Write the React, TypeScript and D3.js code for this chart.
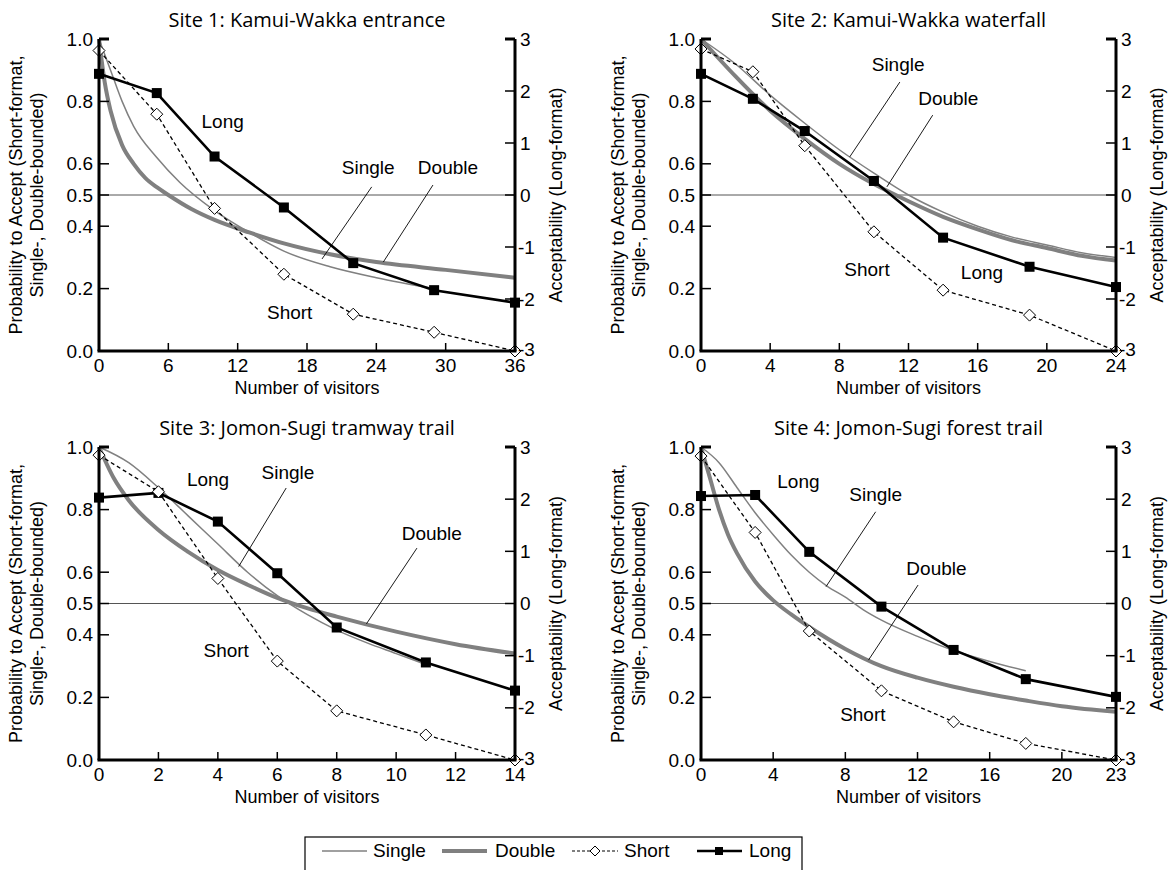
import * as d3 from 'd3';

// ---- data ----
const site1Visitors = [0, 5, 10, 16, 22, 29, 36];
const site1Short = [0.963, 0.759, 0.457, 0.246, 0.118, 0.06, 0.0];
const site1Long = [2.33, 1.96, 0.74, -0.24, -1.31, -1.83, -2.07];
const site1Single = [[0, 1.0], [1, 0.9], [2, 0.8], [3, 0.72], [5, 0.62], [7, 0.54], [10, 0.45], [13, 0.38], [16, 0.32], [20, 0.27], [24, 0.235], [29, 0.2]];
const site1Double = [[0, 1.0], [0.5, 0.86], [1, 0.77], [2, 0.66], [3, 0.6], [4, 0.555], [5, 0.525], [6, 0.5], [8, 0.455], [10, 0.42], [13, 0.38], [16, 0.345], [20, 0.31], [24, 0.285], [30, 0.26], [36, 0.235]];

const site2Visitors = [0, 3, 6, 10, 14, 19, 24];
const site2Short = [0.968, 0.895, 0.658, 0.382, 0.195, 0.115, 0.0];
const site2Long = [2.33, 1.85, 1.23, 0.27, -0.82, -1.38, -1.77];
const site2Single = [[0, 1.0], [2, 0.92], [4, 0.82], [6, 0.73], [8, 0.645], [10, 0.57], [12, 0.5], [14, 0.445], [16, 0.4], [18, 0.365], [20, 0.34], [22, 0.315], [24, 0.3]];
const site2Double = [[0, 1.0], [2, 0.88], [4, 0.77], [6, 0.68], [8, 0.6], [10, 0.535], [12, 0.48], [14, 0.43], [16, 0.39], [18, 0.355], [20, 0.33], [22, 0.305], [24, 0.29]];

const site3Visitors = [0, 2, 4, 6, 8, 11, 14];
const site3Short = [0.974, 0.857, 0.58, 0.316, 0.157, 0.08, 0.0];
const site3Long = [2.03, 2.12, 1.57, 0.58, -0.46, -1.13, -1.67];
const site3Single = [[0, 1.0], [1, 0.95], [2, 0.87], [3, 0.78], [4, 0.69], [5, 0.6], [6, 0.525], [7, 0.465], [8, 0.415], [9, 0.375], [10, 0.34], [11, 0.305]];
const site3Double = [[0, 1.0], [0.5, 0.9], [1, 0.83], [2, 0.735], [3, 0.665], [4, 0.607], [5, 0.56], [6, 0.518], [7, 0.485], [8, 0.458], [10, 0.41], [12, 0.37], [14, 0.34]];

const site4Visitors = [0, 3, 6, 10, 14, 18, 23];
const site4Short = [0.971, 0.727, 0.412, 0.221, 0.122, 0.053, 0.0];
const site4Long = [2.06, 2.08, 0.99, -0.06, -0.89, -1.45, -1.79];
const site4Single = [[0, 1.0], [1, 0.95], [2, 0.87], [3, 0.79], [4, 0.72], [5, 0.655], [6, 0.6], [7, 0.555], [8, 0.52], [9, 0.48], [10, 0.447], [12, 0.395], [14, 0.35], [16, 0.315], [18, 0.285]];
const site4Double = [[0, 1.0], [0.5, 0.9], [1, 0.8], [1.5, 0.72], [2, 0.66], [3, 0.57], [4, 0.51], [5, 0.465], [6, 0.425], [8, 0.355], [10, 0.3], [12, 0.263], [14, 0.234], [16, 0.21], [18, 0.19], [20, 0.172], [23, 0.154]];

const probTicks = [0, 0.2, 0.4, 0.5, 0.6, 0.8, 1.0];
const longTicks = [-3, -2, -1, 0, 1, 2, 3];

const titles = [
  'Site 1: Kamui-Wakka entrance',
  'Site 2: Kamui-Wakka waterfall',
  'Site 3: Jomon-Sugi tramway trail',
  'Site 4: Jomon-Sugi forest trail',
];
const xTickSets = [
  [0, 6, 12, 18, 24, 30, 36],
  [0, 4, 8, 12, 16, 20, 24],
  [0, 2, 4, 6, 8, 10, 12, 14],
  [0, 4, 8, 12, 16, 20, 23],
];

// annotation positions in data units: [x, prob]
const labelSets = [
  { long: [10.7, 0.734], single: [23.3, 0.587], double: [30.2, 0.587], short: [16.5, 0.125],
    singleLead: [[23.6, 0.526], [19.3, 0.295]], doubleLead: [[28.9, 0.532], [24.6, 0.285]] },
  { long: [16.25, 0.253], single: [11.4, 0.917], double: [14.3, 0.808], short: [9.6, 0.26],
    singleLead: [[11.5, 0.862], [8.6, 0.622]], doubleLead: [[13.4, 0.756], [10.75, 0.526]] },
  { long: [3.67, 0.895], single: [6.36, 0.917], double: [11.2, 0.725], short: [4.28, 0.351],
    singleLead: [[6.3, 0.869], [4.7, 0.618]], doubleLead: [[10.7, 0.677], [9.0, 0.435]] },
  { long: [5.4, 0.889], single: [9.68, 0.847], double: [13.05, 0.613], short: [8.97, 0.144],
    singleLead: [[9.68, 0.793], [6.93, 0.554]], doubleLead: [[12.03, 0.559], [9.28, 0.319]] },
];

const FONT = '"Liberation Sans", Arial, sans-serif';
const TITLE_FONT = '"Open Sans", "Noto Sans", sans-serif';
const GRAY = '#808080';

const PANELS = [
  { left: 99, right: 515, top: 39, bottom: 351, visitors: site1Visitors, short: site1Short, long: site1Long, single: site1Single, double: site1Double },
  { left: 701, right: 1116, top: 39, bottom: 351, visitors: site2Visitors, short: site2Short, long: site2Long, single: site2Single, double: site2Double },
  { left: 99, right: 515, top: 447, bottom: 760, visitors: site3Visitors, short: site3Short, long: site3Long, single: site3Single, double: site3Double },
  { left: 701, right: 1116, top: 447, bottom: 760, visitors: site4Visitors, short: site4Short, long: site4Long, single: site4Single, double: site4Double },
];

function Diamond({ x, y, r = 6 }) {
  return <path d={`M${x},${y - r}L${x + r},${y}L${x},${y + r}L${x - r},${y}Z`} fill="#fff" stroke="#000" strokeWidth={1} />;
}

function Panel({ p, i }) {
  const xTicks = xTickSets[i];
  const xMax = xTicks[xTicks.length - 1];
  const x = d3.scaleLinear().domain([0, xMax]).range([p.left, p.right]);
  const y = d3.scaleLinear().domain([0, 1]).range([p.bottom, p.top]);
  const yR = d3.scaleLinear().domain([-3, 3]).range([p.bottom, p.top]);
  const lab = labelSets[i];

  const curve = d3.line().x((d) => x(d[0])).y((d) => y(d[1])).curve(d3.curveMonotoneX);
  const shortLine = d3.line().x((d) => x(d[0])).y((d) => y(d[1]));
  const longLine = d3.line().x((d) => x(d[0])).y((d) => yR(d[1]));
  const shortPts = p.visitors.map((v, k) => [v, p.short[k]]);
  const longPts = p.visitors.map((v, k) => [v, p.long[k]]);
  const midX = (p.left + p.right) / 2;
  const midY = y(0.5);

  return (
    <g>
      <text x={midX} y={p.top - 12} textAnchor="middle" fontFamily={TITLE_FONT} fontSize={20}>{titles[i]}</text>

      {/* 0.5 reference line */}
      <line x1={p.left} x2={p.right} y1={y(0.5)} y2={y(0.5)} stroke="#555" strokeWidth={1} />

      {/* fitted curves */}
      <path d={curve(p.double)} fill="none" stroke={GRAY} strokeWidth={4} />
      <path d={curve(p.single)} fill="none" stroke={GRAY} strokeWidth={1.5} />

      {/* short-format */}
      <path d={shortLine(shortPts)} fill="none" stroke="#000" strokeWidth={1.3} strokeDasharray="4,3" />

      {/* long-format */}
      <path d={longLine(longPts)} fill="none" stroke="#000" strokeWidth={2.6} />
      {longPts.map((d, k) => (
        <rect key={'l' + k} x={x(d[0]) - 5} y={yR(d[1]) - 5} width={10} height={10} fill="#000" />
      ))}
      {shortPts.map((d, k) => (
        <Diamond key={'s' + k} x={x(d[0])} y={y(d[1])} />
      ))}

      {/* annotations */}
      <g fontFamily={FONT} fontSize={19} textAnchor="middle" dominantBaseline="central">
        <text x={x(lab.long[0])} y={y(lab.long[1])}>Long</text>
        <text x={x(lab.single[0])} y={y(lab.single[1])}>Single</text>
        <text x={x(lab.double[0])} y={y(lab.double[1])}>Double</text>
        <text x={x(lab.short[0])} y={y(lab.short[1])}>Short</text>
      </g>
      <line x1={x(lab.singleLead[0][0])} y1={y(lab.singleLead[0][1])} x2={x(lab.singleLead[1][0])} y2={y(lab.singleLead[1][1])} stroke="#000" strokeWidth={0.9} />
      <line x1={x(lab.doubleLead[0][0])} y1={y(lab.doubleLead[0][1])} x2={x(lab.doubleLead[1][0])} y2={y(lab.doubleLead[1][1])} stroke="#000" strokeWidth={0.9} />

      {/* axes */}
      <line x1={p.left} x2={p.left} y1={p.top} y2={p.bottom} stroke="#000" strokeWidth={3} />
      <line x1={p.right} x2={p.right} y1={p.top} y2={p.bottom} stroke="#000" strokeWidth={3} />
      <line x1={p.left - 1.5} x2={p.right + 1.5} y1={p.bottom} y2={p.bottom} stroke="#000" strokeWidth={3} />

      {probTicks.map((t) => (
        <g key={'py' + t}>
          <line x1={p.left} x2={p.left + 10} y1={y(t)} y2={y(t)} stroke="#000" strokeWidth={t === 1 ? 3 : 1.5} />
          <text x={p.left - 6} y={y(t)} textAnchor="end" dominantBaseline="central" fontFamily={FONT} fontSize={19}>{t.toFixed(1)}</text>
        </g>
      ))}
      {longTicks.map((t) => (
        <g key={'ry' + t}>
          <line x1={p.right - 10} x2={p.right} y1={yR(t)} y2={yR(t)} stroke="#000" strokeWidth={t === 3 ? 3 : 1.5} />
          <text x={p.right + (t < 0 ? 3 : 5)} y={yR(t) - (t === -3 ? 2 : 0)} dominantBaseline="central" fontFamily={FONT} fontSize={19}>{t}</text>
        </g>
      ))}
      {xTicks.map((t) => (
        <g key={'x' + t}>
          <line x1={x(t)} x2={x(t)} y1={p.bottom} y2={p.bottom - 8} stroke="#000" strokeWidth={1.5} />
          <text x={x(t)} y={p.bottom + 21} textAnchor="middle" fontFamily={FONT} fontSize={19}>{t}</text>
        </g>
      ))}

      <text x={midX} y={p.bottom + 43} textAnchor="middle" fontFamily={FONT} fontSize={18}>Number of visitors</text>
      <g fontFamily={FONT} fontSize={18} textAnchor="middle">
        <text transform={`translate(${p.left - 77},${midY}) rotate(-90)`}>Probability to Accept (Short-format,</text>
        <text transform={`translate(${p.left - 56},${midY}) rotate(-90)`}>Single-, Double-bounded)</text>
        <text transform={`translate(${p.right + 47},${midY}) rotate(-90)`}>Acceptability (Long-format)</text>
      </g>
    </g>
  );
}

function Legend() {
  const ty = 857;
  return (
    <g fontFamily={FONT} fontSize={19}>
      <rect x={305} y={837} width={497} height={50} fill="#fff" stroke="#000" strokeWidth={1.2} />
      <line x1={322} x2={367} y1={ty - 6} y2={ty - 6} stroke={GRAY} strokeWidth={1.5} />
      <text x={373} y={ty}>Single</text>
      <line x1={442} x2={487} y1={ty - 6} y2={ty - 6} stroke={GRAY} strokeWidth={4} />
      <text x={495} y={ty}>Double</text>
      <line x1={572} x2={618} y1={ty - 6} y2={ty - 6} stroke="#000" strokeWidth={1.2} strokeDasharray="3,2" />
      <Diamond x={595} y={ty - 6} r={5} />
      <text x={624} y={ty}>Short</text>
      <line x1={697} x2={742} y1={ty - 6} y2={ty - 6} stroke="#000" strokeWidth={2.5} />
      <rect x={715} y={ty - 10} width={8} height={8} fill="#000" />
      <text x={749} y={ty}>Long</text>
    </g>
  );
}

export default function App() {
  return (
    <svg width={1173} height={870} style={{ position: 'absolute', left: 0, top: 0, display: 'block', background: '#fff' }}>
      {PANELS.map((p, i) => (
        <Panel key={i} p={p} i={i} />
      ))}
      <Legend />
    </svg>
  );
}
